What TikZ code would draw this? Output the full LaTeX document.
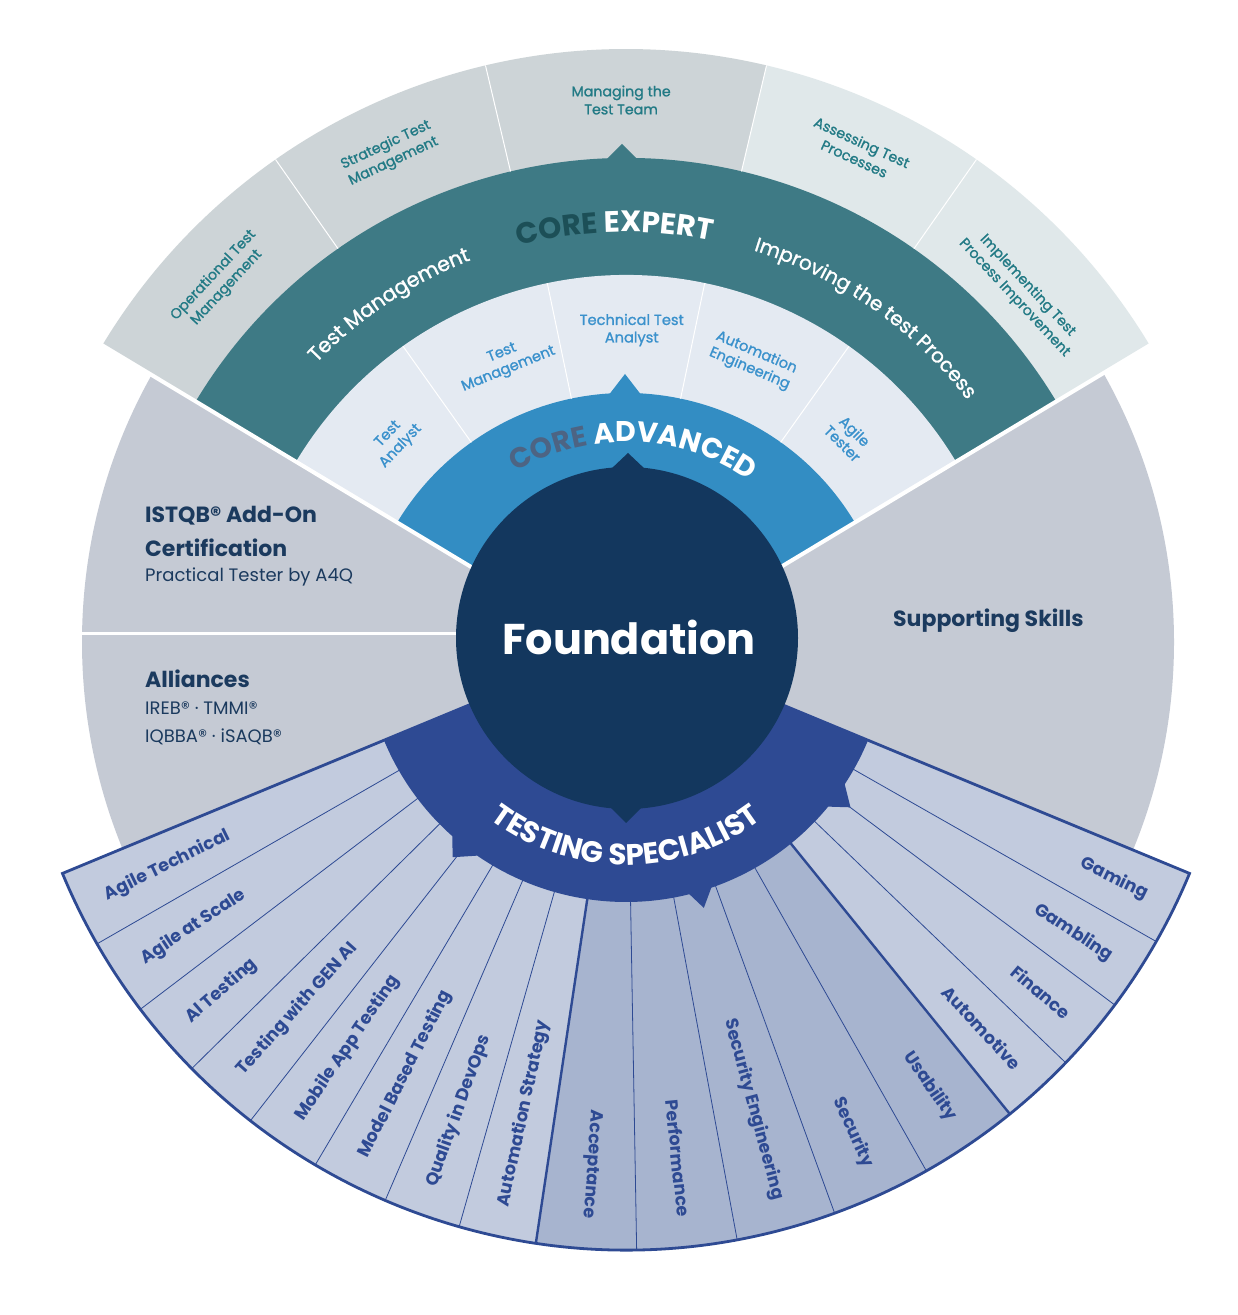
\documentclass[tikz,border=0pt]{standalone}
\usepackage{fontspec}
\setmainfont{Poppins}
\newfontfamily\popmed[FakeBold=1.2]{Poppins}
\usetikzlibrary{decorations.text}
\definecolor{bggray}{HTML}{C5CAD4}
\definecolor{expgray}{HTML}{CDD4D7}
\definecolor{explight}{HTML}{E0E8EA}
\definecolor{tealband}{HTML}{3E7A85}
\definecolor{paleband}{HTML}{E4EAF2}
\definecolor{blueband}{HTML}{338DC3}
\definecolor{foundnavy}{HTML}{13375E}
\definecolor{specblue}{HTML}{2E4A93}
\definecolor{fanlight}{HTML}{C2CBDE}
\definecolor{fandark}{HTML}{A7B4CF}
\definecolor{exptxt}{HTML}{227A85}
\definecolor{advtxt}{HTML}{3A91CC}
\definecolor{lefttxt}{HTML}{1B3A5E}
\definecolor{coreteal}{HTML}{1C4F57}
\definecolor{coreadv}{HTML}{4D6483}
\newcommand{\annsec}[4]{(#1:#3) arc[start angle=#1,end angle=#2,radius=#3] -- (#2:#4) arc[start angle=#2,end angle=#1,radius=#4] -- cycle}
\tikzset{
  explbl/.style={text=exptxt, font=\popmed\fontsize{14.2}{18}\selectfont, align=center, inner sep=0pt},
  advlbl/.style={text=advtxt, font=\popmed\fontsize{14.6}{17.5}\selectfont, align=center, inner sep=0pt},
  fanlbl/.style={text=specblue, font=\bfseries\fontsize{17.5}{18}\selectfont, inner sep=0pt},
  lefthead/.style={text=lefttxt, font=\bfseries\fontsize{22}{24}\selectfont, inner sep=0pt, anchor=base west},
  leftsub/.style={text=lefttxt, font=\fontsize{18}{20}\selectfont, inner sep=0pt, anchor=base west},
}
\begin{document}
\begin{tikzpicture}[x=1pt,y=1pt]
\useasboundingbox (0,0) rectangle (1238,1315);
\fill[white] (0,0) rectangle (1238,1315);
% background grey disc
\fill[bggray] (628,673) circle[radius=546pt];
\draw[white, line width=3pt] (78,681) -- (627,681);
% ---------- top group ----------
\begin{scope}[shift={(626,655)}]
  \foreach \a/\b/\c in {149/125/expgray, 125/103.3/expgray, 103.3/76.7/expgray, 76.7/55/explight, 55/31/explight}
    \fill[\c] \annsec{\a}{\b}{500pt}{611pt};
  \fill[tealband] \annsec{31}{149}{384pt}{502pt};
  \fill[tealband] (-21,499) -- (-4,516) -- (13,499) -- cycle;
  \fill[paleband] \annsec{31}{149}{265pt}{385pt};
  \fill[blueband] (0,0) -- (31:267pt) arc[start angle=31,end angle=149,radius=267pt] -- cycle;
  \fill[blueband] (-18,264) -- (-1,286) -- (16,264) -- cycle;
  \foreach \a in {125,103.3,76.7,55} \draw[white, line width=1pt] (\a:502pt) -- (\a:611pt);
  \foreach \a in {125.4,101.8,78.2,54.6} \draw[white, line width=1pt] (\a:267pt) -- (\a:385pt);
  \draw[white, line width=4pt] (0,0) -- (149:613pt) (0,0) -- (31:613pt);
  % expert labels
  \node[explbl, rotate=47] (op) at (137:555pt) {Operational Test\\Management};
  \node[explbl, rotate=25] (st) at (115:559pt) {Strategic Test\\Management};
  \node[explbl] (mt) at (90.5:560pt) {Managing the\\Test Team};
  \node[explbl, rotate=-24.5] (as) at (65.5:560pt) {Assessing Test\\Processes};
  \node[explbl, rotate=-47] (im) at (43:540pt) {Implementing Test\\Process Improvement};
  % advanced labels
  \node[advlbl, rotate=46.5] (ta) at (136.5:319pt) {Test\\Analyst};
  \node[advlbl, rotate=22] (tm) at (112:322pt) {Test\\Management};
  \node[advlbl] (tta) at (89:330pt) {Technical Test\\Analyst};
  \node[advlbl, rotate=-23] (ae) at (67:325pt) {Automation\\Engineering};
  \node[advlbl, rotate=-45] (at) at (45:315pt) {Agile\\Tester};
  % curved texts
  \path[decorate, decoration={text along path, text align=center,
     text={|\bfseries\fontsize{29.5}{29.5}\selectfont\color{coreteal}|CORE |\bfseries\fontsize{29.5}{29.5}\selectfont\color{white}|EXPERT}}]
     (151.5:428pt) arc[start angle=151.5, end angle=31.5, radius=428pt];
  \path[decorate, decoration={text along path, text align=center,
     text={|\popmed\fontsize{20.5}{22}\selectfont\color{white}|Test Management}}]
     (143.7:429pt) arc[start angle=143.7, end angle=103.7, radius=429pt];
  \path[decorate, decoration={text along path, text align=center,
     text={|\popmed\fontsize{20}{22}\selectfont\color{white}|Improving the test Process}}]
     (80:429pt) arc[start angle=80, end angle=30, radius=429pt];
  \path[decorate, decoration={text along path, text align=center,
     text={|\bfseries\fontsize{28.5}{28.5}\selectfont\color{coreadv}|CORE |\bfseries\fontsize{28.5}{28.5}\selectfont\color{white}|ADVANCED}}]
     (148:218pt) arc[start angle=148, end angle=28, radius=218pt];
\end{scope}
% ---------- specialist fan ----------
\begin{scope}[shift={(626,675)}]
  \foreach \a/\b/\c in {202.5/261.5/fanlight, 261.5/309/fandark, 309/337.5/fanlight}
    \fill[\c] (0,0) -- (\a:610pt) arc[start angle=\a, end angle=\b, radius=610pt] -- cycle;
  \foreach \a in {209.875,217.25,224.625,232,239.375,246.75,254.125,271,280.5,290,299.5,316.125,323.25,330.375}
    \draw[specblue, line width=0.8pt] (0,0) -- (\a:610pt);
  \foreach \a in {261.5,309}
    \draw[specblue, line width=2.4pt] (0,0) -- (\a:610pt);
  \draw[specblue, line width=2.8pt, line join=miter] (0,0) -- (202.5:610pt) arc[start angle=202.5, end angle=337.5, radius=610pt] -- cycle;
  % band
  \fill[specblue] (0,0) -- (202.5:262pt) arc[start angle=202.5, end angle=228.5, radius=262pt]
     -- (231.4:278pt) -- (235.4:262pt) arc[start angle=235.4, end angle=284, radius=262pt]
     -- (286.2:279pt) -- (289:262pt) arc[start angle=289, end angle=320.5, radius=262pt]
     -- (323.3:280pt) -- (326.6:262pt) arc[start angle=326.6, end angle=337.5, radius=262pt] -- cycle;
  % fan labels, left group (reading inward)
  \foreach \m/\t [count=\i] in {206.19/Agile Technical, 213.56/Agile at Scale, 220.94/AI Testing, 228.31/Testing with GEN AI, 235.69/Mobile App Testing, 243.06/Model Based Testing, 250.44/Quality in DevOps, 257.81/Automation Strategy}
    \node[fanlbl, anchor=west, rotate=\m-180] (fl\i) at (\m:580pt) {\t};
  % middle and right groups (reading outward)
  \foreach \m/\t [count=\i] in {266.25/Acceptance, 275.75/Performance, 285.25/Security Engineering, 294.75/Security, 304.25/Usability, 312.56/Automotive, 319.69/Finance, 326.81/Gambling, 333.94/Gaming}
    \node[fanlbl, anchor=east, rotate=\m-360] (fr\i) at (\m:580pt) {\t};
  \path[decorate, decoration={text along path, text align=center,
     text={|\bfseries\fontsize{29.5}{29.5}\selectfont\color{white}|TESTING SPECIALIST}}]
     (200:225pt) arc[start angle=200, end angle=340, radius=225pt];
\end{scope}
% ---------- foundation ----------
\fill[foundnavy] (627,677) circle[radius=171pt];
\fill[foundnavy] (610,845) -- (628,862) -- (646,845) -- cycle;
\fill[foundnavy] (609,509) -- (626,492) -- (643,509) -- cycle;
\node[text=white, font=\bfseries\fontsize{43}{43}\selectfont, anchor=base, inner sep=0pt] (found) at (629,660) {Foundation};
% ---------- side texts ----------
\node[lefthead] (istqb) at (145,792) {ISTQB® Add-On};
\node[lefthead] (cert) at (145,758) {Certification};
\node[leftsub] (pt) at (145,733) {Practical Tester by A4Q};
\node[lefthead] (all) at (145,627) {Alliances};
\node[leftsub] (ireb) at (145,600) {IREB® · TMMI®};
\node[leftsub] (iqbba) at (145,572) {IQBBA® · iSAQB®};
\node[lefthead] (supp) at (893,688) {Supporting Skills};
\end{tikzpicture}
\end{document}
